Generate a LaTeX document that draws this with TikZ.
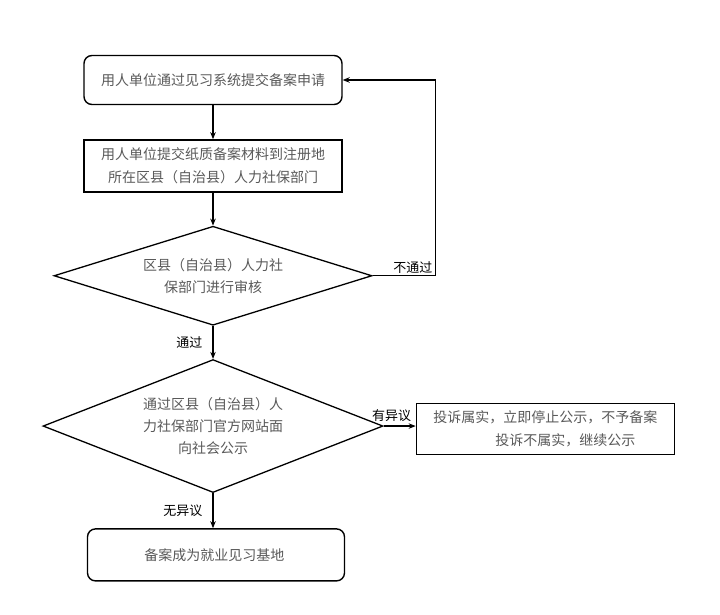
\documentclass[tikz,border=0pt]{standalone}
\usepackage{fontspec}
\newfontfamily\cjk{Noto Sans CJK SC}
\usetikzlibrary{shapes.geometric,arrows.meta,positioning}

\begin{document}
\begin{tikzpicture}[
    x=1pt, y=1pt,
    box/.style={draw, rectangle, line width=1.4pt, minimum width=258pt, minimum height=50pt,
        align=center, text=black!65, font=\cjk\fontsize{14}{23}\selectfont},
    rbox/.style={box, rounded corners=8pt},
    decision/.style={draw, diamond, line width=1.3pt, inner sep=0pt, align=center,
        text=black!65, font=\cjk\fontsize{14}{22}\selectfont},
    arrow/.style={-{Stealth[length=7pt,width=5.5pt]}, line width=1.3pt},
    lab/.style={font=\cjk\fontsize{13}{15}\selectfont, inner sep=1pt}
]
    \useasboundingbox (0,0) rectangle (720,614);

    % Submit online
    \node[rbox, minimum height=49pt] (submit) at (213,534) {用人单位通过见习系统提交备案申请};

    % Paper materials
    \node[box, minimum height=52pt, below=34pt of submit] (paper) {
        用人单位提交纸质备案材料到注册地\\
        所在区县（自治县）人力社保部门
    };

    % Review
    \node[decision, aspect=3.2, minimum width=318pt, minimum height=99pt, below=33pt of paper] (review) {
        区县（自治县）人力社\\
        保部门进行审核
    };

    % Public notice
    \node[decision, aspect=2.55, minimum width=340pt, minimum height=133pt, below=33pt of review] (notice) {
        通过区县（自治县）人\\
        力社保部门官方网站面\\
        向社会公示
    };

    % Objection
    \node[box, minimum width=258pt, minimum height=51pt, align=left, right=32pt of notice, yshift=-3pt] (objection) {
        投诉属实，立即停止公示，不予备案\\
        \hspace*{62pt}投诉不属实，继续公示
    };

    % Result
    \node[rbox, minimum width=257pt, minimum height=52pt, below=35pt of notice, xshift=3pt] (base) {
        备案成为就业见习基地
    };

    % Connectors
    \coordinate[right=63pt of review.east] (back);
    \draw[arrow] (submit) -- (paper);
    \draw[arrow] (paper) -- (review);
    \draw[arrow] (review.south) -- node[lab, midway, left=9pt] {通过} (notice.north);
    \draw[arrow] (review.east) -- (back) |- (submit.east);
    \node[lab, above left=1pt and 2pt of back] {不通过};
    \draw[arrow] (notice.east) -- node[lab, pos=0.25, above=3pt] {有异议} (notice.east -| objection.west);
    \draw[arrow] (notice.south) -- node[lab, midway, left=9pt] {无异议} (notice.south |- base.north);
\end{tikzpicture}
\end{document}
